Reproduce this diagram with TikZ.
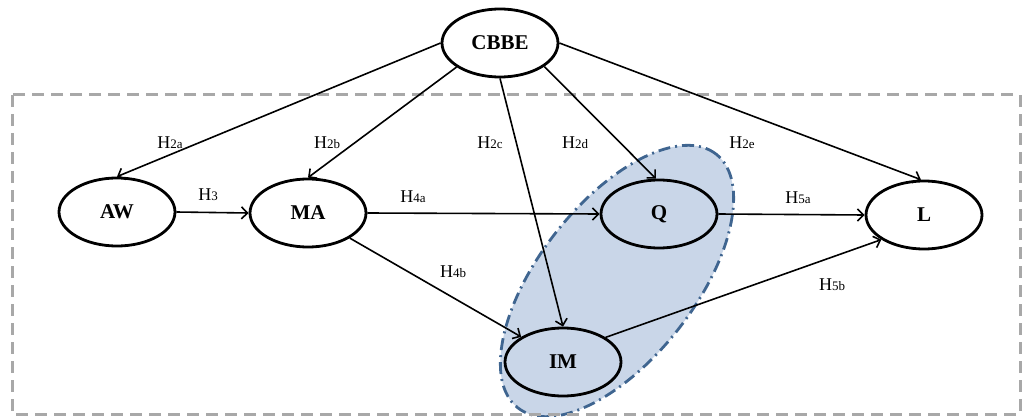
\documentclass[tikz,border=0pt]{standalone}
\usepackage{fontspec}
\setmainfont{Liberation Serif}
\usetikzlibrary{shapes.geometric,arrows.meta}
\definecolor{blobfill}{HTML}{C9D6E8}
\definecolor{blobline}{HTML}{3F6590}
\definecolor{frame}{HTML}{A8A8A8}
\newcommand{\hyp}[1]{{\fontsize{18}{20}\selectfont H}{\fontsize{13}{15}\selectfont #1}}
\tikzset{
  construct/.style={ellipse, draw=black, line width=2.8pt, minimum width=116pt,
    minimum height=68pt, inner sep=0pt, font=\fontsize{21}{23}\selectfont\bfseries},
  path/.style={line width=1.6pt, -{Straight Barb[length=6pt,width=12pt,line width=1.6pt]}},
  hlabel/.style={inner sep=0pt}
}
\begin{document}
\begin{tikzpicture}[x=1pt,y=-1pt]
\useasboundingbox (0,0) rectangle (1023,417);
% mediator region
\begin{scope}[shift={(617,281)}, rotate=52]
  \path[fill=blobfill, draw=blobline, line width=2.8pt,
        dash pattern=on 12pt off 5pt on 2pt off 5pt]
    (0,0) ellipse [x radius=161pt, y radius=78pt];
\end{scope}
% model boundary
\draw[frame, line width=3pt, dash pattern=on 12pt off 7pt] (12,95) rectangle (1020,414);
% constructs
\node[construct] (cbbe) at (500,43) {CBBE};
\node[construct] (aw) at (117,212) {AW};
\node[construct] (ma) at (308,213) {MA};
\node[construct] (q) at (659,214) {Q};
\node[construct] (l) at (924,215) {L};
\node[construct] (im) at (563,362) {IM};
% hypothesised paths
\draw[path] (cbbe.west) -- (aw.north);
\draw[path] (cbbe.209) -- (ma.north);
\draw[path] (cbbe.south) -- (im.north);
\draw[path] (cbbe.332) -- (q.95);
\draw[path] (cbbe.east) -- (l.95);
\draw[path] (aw.east) -- (ma.west);
\draw[path] (ma.east) -- (q.west);
\draw[path] (ma.329) -- (im.149);
\draw[path] (q.east) -- (l.west);
\draw[path] (im.30) -- (l.210);
% path labels
\node[hlabel] (h2a) at (170,143) {\hyp{2a}};
\node[hlabel] (h2b) at (327,143) {\hyp{2b}};
\node[hlabel] (h3) at (208,195) {\hyp{3}};
\node[hlabel] (h2c) at (490,143) {\hyp{2c}};
\node[hlabel] (h2d) at (575,143) {\hyp{2d}};
\node[hlabel] (h2e) at (742,143) {\hyp{2e}};
\node[hlabel] (h4a) at (413,197) {\hyp{4a}};
\node[hlabel] (h4b) at (453,272) {\hyp{4b}};
\node[hlabel] (h5a) at (798,198) {\hyp{5a}};
\node[hlabel] (h5b) at (832,285) {\hyp{5b}};
\end{tikzpicture}
\end{document}
